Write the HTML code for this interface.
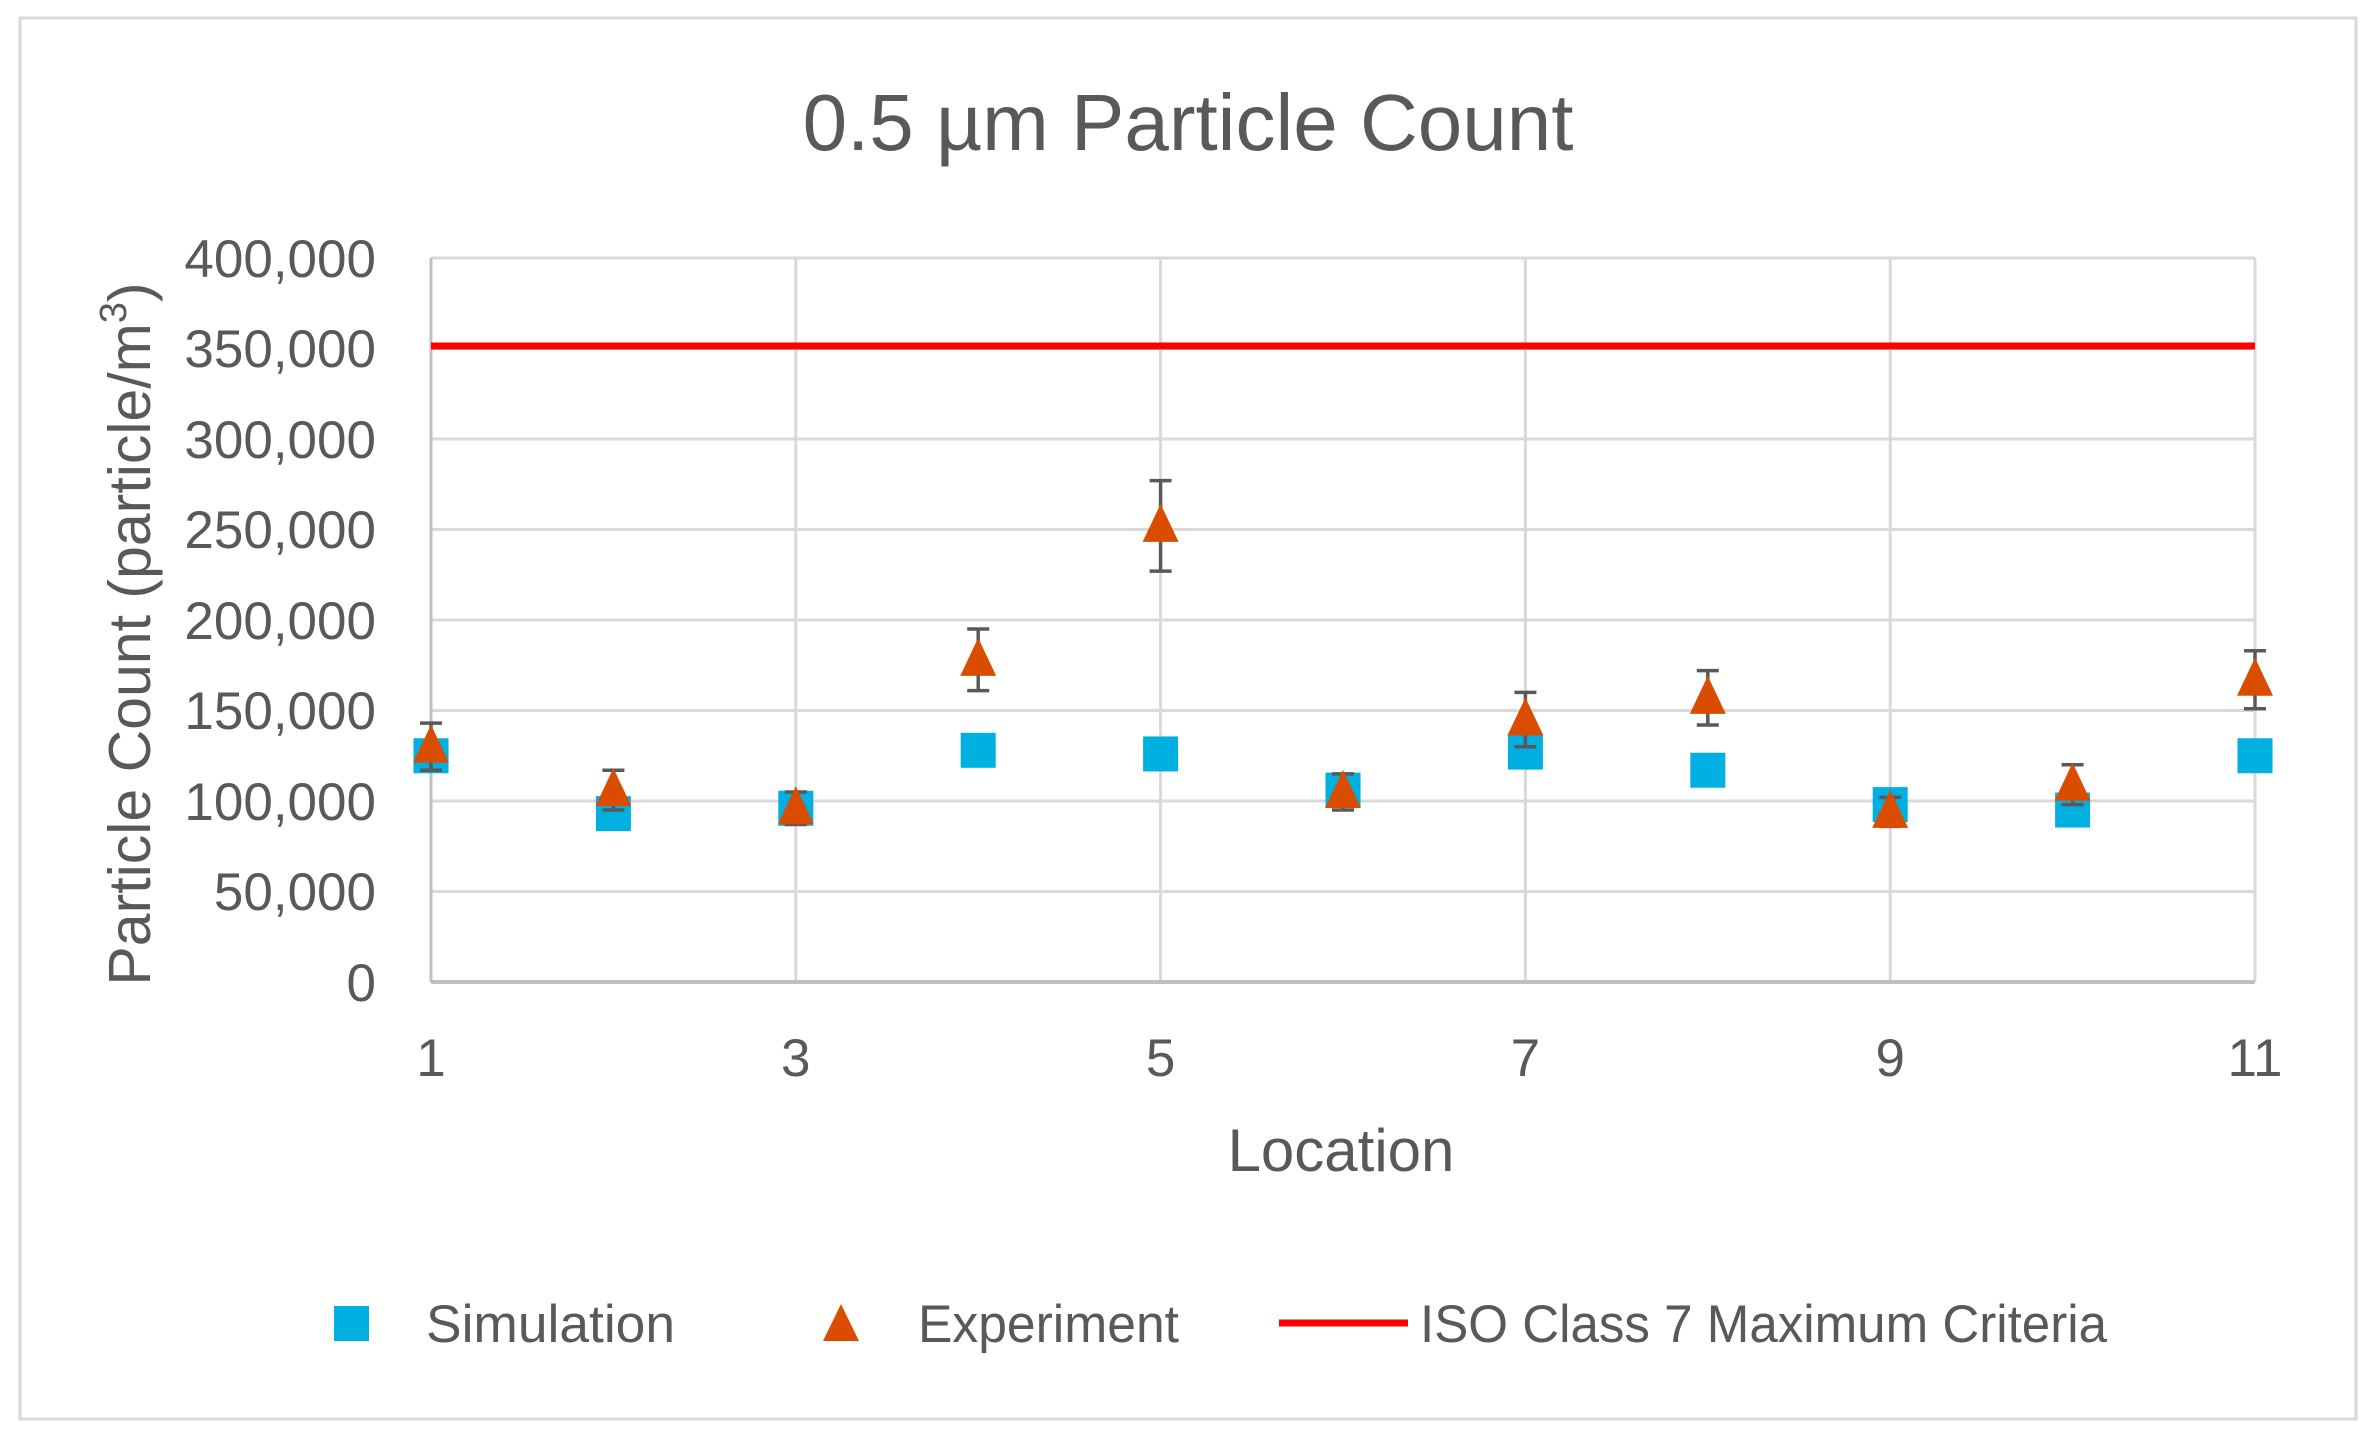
<!DOCTYPE html>
<html><head><meta charset="utf-8"><style>
html,body{margin:0;padding:0;background:#fff;}
svg{display:block;font-family:"Liberation Sans",sans-serif;}
</style></head><body>
<svg width="2379" height="1440" viewBox="0 0 2379 1440" xmlns="http://www.w3.org/2000/svg">
<rect x="20" y="18" width="2336" height="1401" fill="#fff" stroke="#D9D9D9" stroke-width="3"/>
<text x="1188" y="150" text-anchor="middle" font-size="80" fill="#595959">0.5 µm Particle Count</text>
<g stroke="#D9D9D9" stroke-width="3">
<line x1="431" y1="258" x2="2255" y2="258"/>
<line x1="431" y1="348.5" x2="2255" y2="348.5"/>
<line x1="431" y1="439" x2="2255" y2="439"/>
<line x1="431" y1="529.5" x2="2255" y2="529.5"/>
<line x1="431" y1="620" x2="2255" y2="620"/>
<line x1="431" y1="710.5" x2="2255" y2="710.5"/>
<line x1="431" y1="801" x2="2255" y2="801"/>
<line x1="431" y1="891.5" x2="2255" y2="891.5"/>
<line x1="431" y1="258" x2="431" y2="982"/>
<line x1="795.8" y1="258" x2="795.8" y2="982"/>
<line x1="1160.6" y1="258" x2="1160.6" y2="982"/>
<line x1="1525.4" y1="258" x2="1525.4" y2="982"/>
<line x1="1890.2" y1="258" x2="1890.2" y2="982"/>
<line x1="2255" y1="258" x2="2255" y2="982"/>
</g>
<line x1="431" y1="982" x2="2255" y2="982" stroke="#BFBFBF" stroke-width="4"/>
<line x1="431" y1="258" x2="431" y2="982" stroke="#BFBFBF" stroke-width="3"/>
<g font-size="53" fill="#595959" text-anchor="end">
<text x="376" y="277">400,000</text>
<text x="376" y="367">350,000</text>
<text x="376" y="458">300,000</text>
<text x="376" y="548">250,000</text>
<text x="376" y="639">200,000</text>
<text x="376" y="729">150,000</text>
<text x="376" y="820">100,000</text>
<text x="376" y="910">50,000</text>
<text x="376" y="1001">0</text>
</g>
<g font-size="53" fill="#595959" text-anchor="middle">
<text x="431" y="1076">1</text>
<text x="795.8" y="1076">3</text>
<text x="1160.6" y="1076">5</text>
<text x="1525.4" y="1076">7</text>
<text x="1890.2" y="1076">9</text>
<text x="2255" y="1076">11</text>
</g>
<text x="1341" y="1171" text-anchor="middle" font-size="60" fill="#595959">Location</text>
<text transform="translate(150,634) rotate(-90)" text-anchor="middle" font-size="59" fill="#595959">Particle Count (particle/m<tspan font-size="38" dy="-24">3</tspan><tspan dy="24">)</tspan></text>
<line x1="431" y1="346" x2="2255" y2="346" stroke="#FF0000" stroke-width="7"/>
<g fill="#00B0E0" id="sims"></g>
<g id="exp"></g>
<script>
(function(){
var ns="http://www.w3.org/2000/svg";
function X(i){return 431+(i-1)*182.4;}
function Y(v){return 982-v*724/400000;}
var sim=[125,93,96,128,126,106,127,117,98,95,125];
var exp=[130,106,96,178,252,105,145,157,94,109,167];
var err=[13,11,9,17,25,10,15,15,8,11,16];
var g=document.getElementById('sims');
sim.forEach(function(v,k){var r=document.createElementNS(ns,'rect');r.setAttribute('x',X(k+1)-17.5);r.setAttribute('y',Y(v*1000)-17.5);r.setAttribute('width',35);r.setAttribute('height',35);r.setAttribute('fill','#00B0E0');g.appendChild(r);});
var e=document.getElementById('exp');
exp.forEach(function(v,k){var x=X(k+1),y=Y(v*1000),t=Y((v+err[k])*1000),b=Y((v-err[k])*1000);
var p=document.createElementNS(ns,'path');p.setAttribute('d','M'+x+' '+t+'V'+b+'M'+(x-11)+' '+t+'H'+(x+11)+'M'+(x-11)+' '+b+'H'+(x+11));p.setAttribute('stroke','#595959');p.setAttribute('stroke-width','3.5');p.setAttribute('fill','none');e.appendChild(p);
var tr=document.createElementNS(ns,'polygon');tr.setAttribute('points',(x)+','+(y-22)+' '+(x+18)+','+(y+16)+' '+(x-18)+','+(y+16));tr.setAttribute('fill','#DA4C00');e.appendChild(tr);});
})();
</script>
<rect x="334" y="1306" width="35" height="35" fill="#00B0E0"/>
<polygon points="841,1304 859,1341 823,1341" fill="#DA4C00"/>
<line x1="1279" y1="1323" x2="1408" y2="1323" stroke="#FF0000" stroke-width="7"/>
<g font-size="53" fill="#595959">
<text x="426" y="1342" textLength="249" lengthAdjust="spacingAndGlyphs">Simulation</text>
<text x="918" y="1342" textLength="261" lengthAdjust="spacingAndGlyphs">Experiment</text>
<text x="1420" y="1342" textLength="687" lengthAdjust="spacingAndGlyphs">ISO Class 7 Maximum Criteria</text>
</g>
</svg>
</body></html>
